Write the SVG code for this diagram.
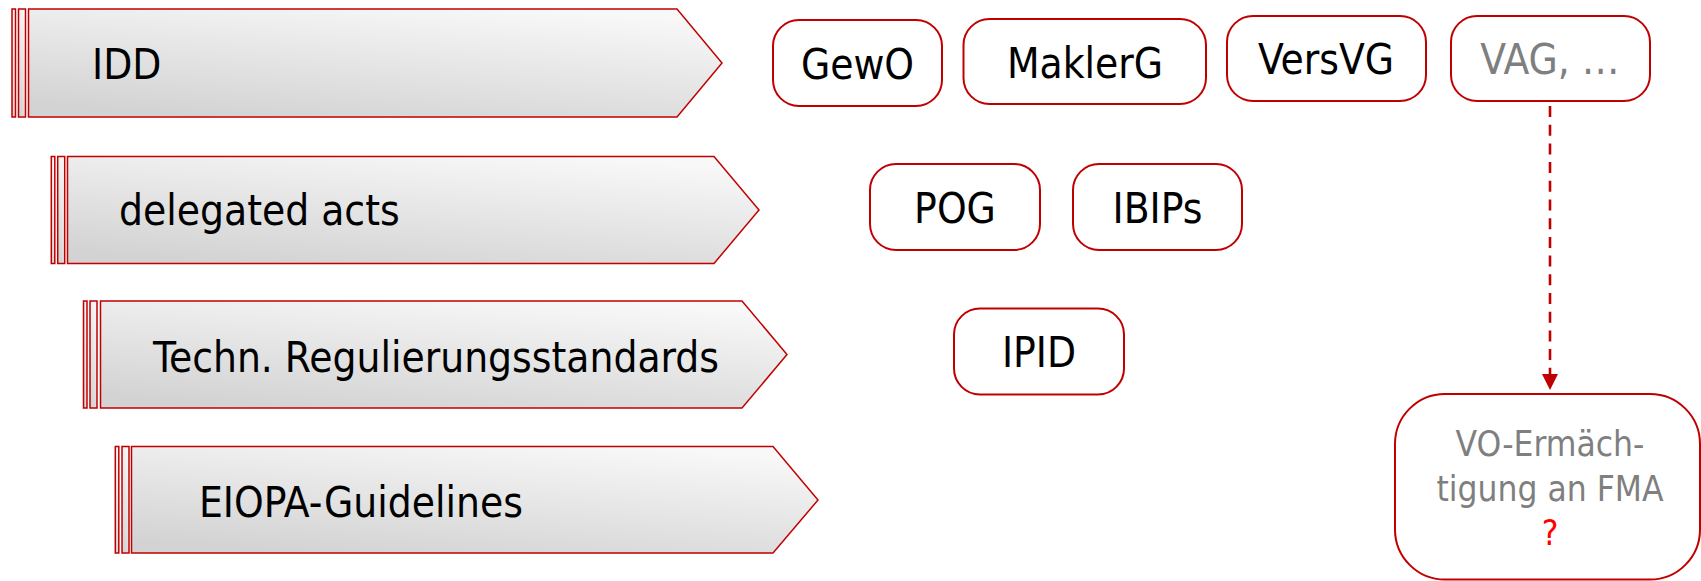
<svg xmlns="http://www.w3.org/2000/svg" width="1701" height="581" viewBox="0 0 1701 581">
<defs>
<linearGradient id="bg" x1="0.75" y1="0" x2="0.25" y2="1">
<stop offset="0" stop-color="#f8f8f8"/>
<stop offset="1" stop-color="#d3d3d3"/>
</linearGradient>
<marker id="ah" viewBox="0 0 16 16" markerWidth="16" markerHeight="16" markerUnits="userSpaceOnUse" refX="1" refY="8" orient="auto">
<path d="M0,0 L16,8 L0,16 z" fill="#C00000"/>
</marker>
<style>
.bn{fill:url(#bg);stroke:#C00000;stroke-width:1.5}
.bx{fill:#ffffff;stroke:#C00000;stroke-width:2}
.t{font-family:'DejaVu Sans Condensed','Noto Sans',sans-serif;font-stretch:condensed;font-size:42px;fill:#000}
.c{text-anchor:middle}
.g{fill:#7f7f7f}
.v{font-size:35px}
.conn{stroke:#C00000;stroke-width:2.6;fill:none;stroke-dasharray:11 7.7}
</style>
</defs>
<rect width="1701" height="581" fill="#ffffff"/>

<g id="idd">
<rect class="bn" x="12" y="9" width="3.5" height="108"/>
<rect class="bn" x="18.5" y="9" width="7" height="108"/>
<path class="bn" d="M28.5,9 L677,9 L722,63 L677,117 L28.5,117 Z"/>
<text class="t" x="92" y="79">IDD</text>
</g>

<g id="delegated">
<rect class="bn" x="51.3" y="156.5" width="3.5" height="107"/>
<rect class="bn" x="57.7" y="156.5" width="7" height="107"/>
<path class="bn" d="M67.5,156.5 L714,156.5 L759,210 L714,263.5 L67.5,263.5 Z"/>
<text class="t" x="119" y="225">delegated acts</text>
</g>

<g id="techn">
<rect class="bn" x="83.5" y="301" width="3.5" height="107"/>
<rect class="bn" x="90" y="301" width="7" height="107"/>
<path class="bn" d="M100.5,301 L742,301 L787,354.5 L742,408 L100.5,408 Z"/>
<text class="t" x="153" y="371.5">Techn. Regulierungsstandards</text>
</g>

<g id="eiopa">
<rect class="bn" x="115.3" y="446.5" width="3.5" height="106.5"/>
<rect class="bn" x="122" y="446.5" width="7" height="106.5"/>
<path class="bn" d="M131.5,446.5 L773,446.5 L818,500 L773,553 L131.5,553 Z"/>
<text class="t" x="199" y="517">EIOPA-Guidelines</text>
</g>

<g id="gewo">
<rect class="bx" x="773" y="20" width="169" height="86" rx="26"/>
<text class="t c" x="857.5" y="79">GewO</text>
</g>
<g id="maklerg">
<rect class="bx" x="963.5" y="19" width="242.5" height="85" rx="26"/>
<text class="t c" x="1085" y="77.5">MaklerG</text>
</g>
<g id="versvg">
<rect class="bx" x="1227" y="16" width="199" height="85" rx="26"/>
<text class="t c" x="1326" y="74">VersVG</text>
</g>
<g id="vag">
<rect class="bx" x="1451" y="16" width="199" height="85" rx="26"/>
<text class="t c g" x="1550" y="74">VAG, …</text>
</g>
<g id="pog">
<rect class="bx" x="870" y="164" width="170" height="86" rx="26"/>
<text class="t c" x="955" y="222.5">POG</text>
</g>
<g id="ibips">
<rect class="bx" x="1073" y="164" width="169" height="86" rx="26"/>
<text class="t c" x="1157.5" y="222.5">IBIPs</text>
</g>
<g id="ipid">
<rect class="bx" x="954" y="308.5" width="170" height="86" rx="26"/>
<text class="t c" x="1039" y="366.5">IPID</text>
</g>
<g id="vo">
<rect class="bx" x="1395" y="394" width="305" height="185.5" rx="50"/>
<text class="t c g v" x="1550" y="456">VO-Ermäch-</text>
<text class="t c g v" x="1550" y="500.5">tigung an FMA</text>
<text class="t c v" x="1550" y="545" style="fill:#ff0000">?</text>
</g>

<g id="connectors">
<line class="conn" x1="1550" y1="106" x2="1550" y2="375" marker-end="url(#ah)"/>
</g>
</svg>
